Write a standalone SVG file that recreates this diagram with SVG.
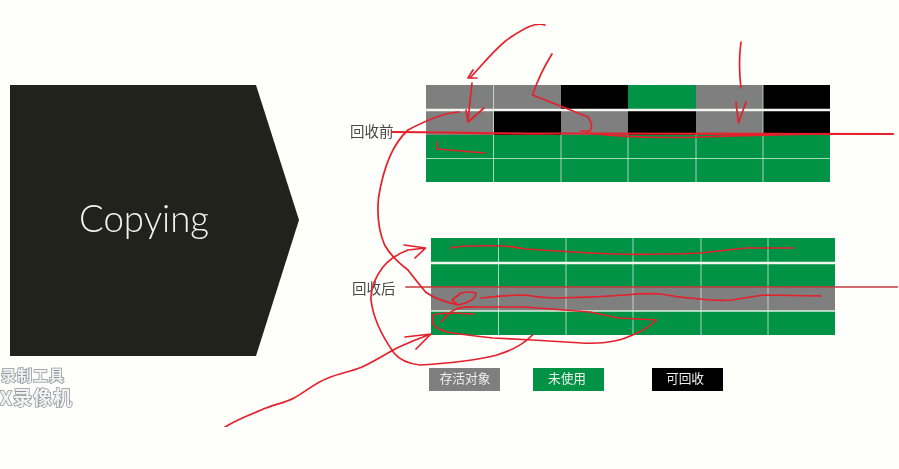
<svg xmlns="http://www.w3.org/2000/svg" width="899" height="469" viewBox="0 0 899 469">
<defs><filter id="soft" x="0" y="0" width="100%" height="100%"><feGaussianBlur stdDeviation="0.45"/></filter></defs>
<style>
.g{fill:#7f7f7f}.k{fill:#000}.n{fill:#009245}
.div{stroke:#d9efe0;stroke-width:1;fill:none;opacity:.75}
.gap{stroke:#f4f6f0;stroke-width:2.500;fill:none}
.lab{font-family:"Noto Sans CJK SC","Liberation Sans",sans-serif;font-size:14.500px;fill:#4a4a4a}
.leg{font-family:"Noto Sans CJK SC","Liberation Sans",sans-serif;font-size:12.700px;fill:#eee;text-anchor:middle}
.ink{fill:none;stroke:#e4202c;stroke-width:1.700;stroke-linecap:round;stroke-linejoin:round}
.wm{font-family:"Noto Sans CJK SC",sans-serif;font-weight:700;fill:#f2f2f2;stroke:#8f959b;stroke-width:1.500;paint-order:stroke}
</style>
<rect id="background" width="899" height="469" fill="#fefefa"/>
<g filter="url(#soft)">
<g id="copying">
<polygon points="10,85 256,85 299,220 256,356 10,356" fill="#23231f"/>
<text x="79" y="232" font-family="Lato,'Open Sans',sans-serif" font-weight="300" font-size="37" fill="#f2f2f0" textLength="130" lengthAdjust="spacingAndGlyphs">Copying</text>
</g>
<g id="watermark">
<text class="wm" x="1" y="381" font-size="15" letter-spacing="1">录制工具</text>
<text class="wm" x="0" y="405" font-size="19" letter-spacing="1">X录像机</text>
</g>
<g id="before">
<text class="lab" x="350" y="137">回收前</text>
<rect class="g" x="426" y="85" width="135" height="25"/><rect class="k" x="561" y="85" width="67" height="25"/><rect class="n" x="628" y="85" width="68" height="25"/><rect class="g" x="696" y="85" width="67" height="25"/><rect class="k" x="763" y="85" width="67" height="25"/>
<rect class="g" x="426" y="110" width="68" height="25"/><rect class="k" x="494" y="110" width="67" height="25"/><rect class="g" x="561" y="110" width="67" height="25"/><rect class="k" x="628" y="110" width="68" height="25"/><rect class="g" x="696" y="110" width="67" height="25"/><rect class="k" x="763" y="110" width="67" height="25"/>
<rect class="n" x="426" y="135" width="404" height="47"/>
<path class="div" d="M493.500 85V182M561 135V182M628 135V182M696 135V182M763 85V182M426 158.500H830"/>
<path class="gap" d="M426 110H830"/>
</g>
<g id="after">
<text class="lab" x="352" y="294">回收后</text>
<rect class="n" x="431" y="238" width="404" height="49"/>
<rect class="g" x="431" y="287" width="404" height="24"/>
<rect class="n" x="431" y="311" width="404" height="24"/>
<path class="div" d="M498.500 238V335M566 238V335M633 238V335M701 238V335M768 238V335"/>
<path class="gap" d="M431 263H835"/>
<path class="div" d="M431 311H835" style="stroke-width:1.500;opacity:1"/>
</g>
<g id="legend-survivor"><rect class="g" x="429" y="368" width="71" height="23"/><text class="leg" x="465" y="383">存活对象</text></g>
<g id="legend-unused"><rect class="n" x="533" y="368" width="71" height="23"/><text class="leg" x="567" y="383">未使用</text></g>
<g id="legend-reclaim"><rect class="k" x="652" y="368" width="71" height="23"/><text class="leg" x="685" y="383">可回收</text></g>
<g id="connectors" class="ink">
<path d="M392 132C450 132 500 134 560 133.500L893 134" stroke-width="2.200"/>
<path d="M586 133Q640 139 700 137T830 134"/>
<path d="M406 287H898" stroke="#c8383c"/>
<path d="M545 25C535 22 525 28 511 37C497 46 485 62 470 78M468 78H477M468 78L473 70"/>
<path d="M472 83L468 120M466 110L468 122L484 108"/>
<path d="M552 54Q540 73 532.500 95L588 117Q594 126 590 131L581 131"/>
<path d="M741 42Q738 63 741 88M736 102L738.500 123L746 102"/>
<path d="M437 142V149L485 153"/>
<path d="M459 112Q440 113 408 130Q386 150 378.500 198Q376 225 384.600 245Q392 258 408 270Q418 283 425.600 292Q436 300 458 305Q476 301 476 293Q470 291 461 293L452 300L458 305"/>
<path d="M425.600 248L408 250Q392 256 383 267Q370 284 371 300Q374 325 394 353Q402 363 420 365Q470 362 497 355Q520 348 532.500 335M404 245L425.600 248L415 258"/>
<path d="M225 427C240 418 250 415 261 410C275 404 285 403 294 398C308 390 315 383 328 378C340 373 350 372 362 367C375 361 387 353 399 347C410 342 420 338 431 334M405 337L431 334L416 349"/>
<path d="M450.500 248Q462 245 504 246Q515 247 525 249L590 253Q630 255 661 254Q680 254 700 253L746 248H793"/>
<path d="M481 298Q505 295 525 295Q540 298 554 298Q590 298 625 295Q645 293 661 294Q680 298 700 299Q715 301 732 300Q750 297 764 295L821 296"/>
<path d="M441.600 322Q446 315 454 310Q462 306 475.500 307H525L590 312Q605 315 618 318L656.600 320Q648 328 639 332Q625 339 614.500 341Q600 344 582 343L532.500 340L493 338Q465 335 447 332Q434 328 433 323V315Q440 313 450.500 313L473.700 314"/>
</g>
</g>
</svg>
